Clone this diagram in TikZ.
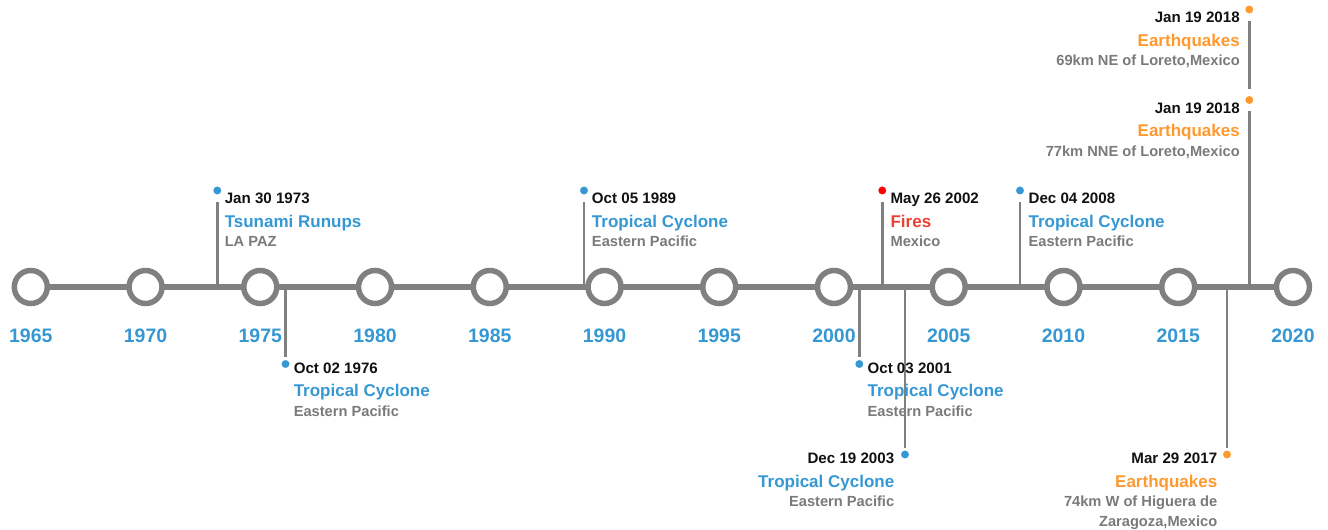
\documentclass[tikz,border=0pt]{standalone}
\usepackage{fontspec}
\setmainfont{Liberation Sans}
\usetikzlibrary{calc}
\definecolor{axisgray}{HTML}{808080}
\definecolor{subgray}{HTML}{7A7A7A}
\definecolor{evblue}{HTML}{3598D3}
\definecolor{evorange}{HTML}{FF992E}
\definecolor{evred}{HTML}{EB4034}
\definecolor{dotred}{HTML}{FF0000}
\definecolor{datecol}{HTML}{111111}
\tikzset{
  yearring/.style={circle, draw=axisgray, line width=5.5*0.75pt, fill=white, minimum size=33*0.75pt, inner sep=0pt},
  yearlabel/.style={anchor=base, inner sep=0pt, text=evblue, font=\bfseries\fontsize{14.6}{16}\selectfont},
  axisline/.style={draw=axisgray, line width=6.5*0.75pt},
  stem/.style={draw=axisgray, line width=2.6*0.75pt},
  evdot/.style={circle, fill=#1, draw=white, line width=0.9pt, minimum size=9.5*0.75pt, inner sep=0pt},
  datetxt/.style={inner sep=0pt, text=datecol, font=\bfseries\fontsize{11.35}{13}\selectfont},
  titletxt/.style={inner sep=0pt, text=#1, font=\bfseries\fontsize{12.75}{15}\selectfont},
  subtxt/.style={inner sep=0pt, text=subgray, font=\bfseries\fontsize{11}{15}\selectfont},
}
\begin{document}
\begin{tikzpicture}[x=0.75pt, y=-0.75pt]
\useasboundingbox (0,0) rectangle (1328,530);
% axis coordinates and rings
\foreach \yr [count=\i from 0] in {1965,1970,1975,1980,1985,1990,1995,2000,2005,2010,2015,2020} {
  \coordinate (a\yr) at ({30.8+\i*114.74},287);
}
\foreach \a/\b in {1965/1970,1970/1975,1975/1980,1980/1985,1985/1990,1990/1995,1995/2000,2000/2005,2005/2010,2010/2015,2015/2020} {
  \draw[axisline] (a\a) -- (a\b);
}
% event stems (drawn before rings)
\coordinate (s1) at (217.3,287);
\coordinate (s2) at (285.5,287);
\coordinate (s3) at (584,287);
\coordinate (s4) at (859.3,287);
\coordinate (s5) at (882.3,287);
\coordinate (s6) at (905,287);
\coordinate (s7) at (1020,287);
\coordinate (s8) at (1227,287);
\coordinate (s9) at (1249.3,287);
\node[evdot=evblue] (d1) at (217.3,190.5) {};
\node[evdot=evblue] (d2) at (285.5,364) {};
\node[evdot=evblue] (d3) at (584,190.5) {};
\node[evdot=evblue] (d4) at (859.3,364) {};
\node[evdot=dotred] (d5) at (882.3,190.5) {};
\node[evdot=evblue] (d6) at (905,454.5) {};
\node[evdot=evblue] (d7) at (1020,190.5) {};
\node[evdot=evorange] (d8) at (1227,454.5) {};
\node[evdot=evorange] (d9) at (1249.3,100) {};
\node[evdot=evorange] (d10) at (1249.3,9.5) {};
\draw[stem, shorten >=4.5pt] (s1) -- (d1);
\draw[stem, shorten >=1pt] (s2) -- (d2);
\draw[stem, shorten >=4.5pt] (s3) -- (d3);
\draw[stem, shorten >=1pt] (s4) -- (d4);
\draw[stem, shorten >=4.5pt] (s5) -- (d5);
\draw[stem, shorten >=1pt] (s6) -- (d6);
\draw[stem, shorten >=4.5pt] (s7) -- (d7);
\draw[stem, shorten >=1pt] (s8) -- (d8);
\draw[stem, shorten >=4.5pt] (s9) -- (d9);
\draw[stem, shorten >=4.5pt, shorten <=4.5pt] (d9) -- (d10);
% rings and year labels
\foreach \yr in {1965,1970,1975,1980,1985,1990,1995,2000,2005,2010,2015,2020} {
  \node[yearring] (c\yr) at (a\yr) {};
  \node[yearlabel] (y\yr) at ($(a\yr)+(0,55.3)$) {\yr};
}
% event 1
\node[datetxt, anchor=base west] (t1a) at (224.5,204) {Jan 30 1973};
\node[titletxt=evblue, anchor=base west] (t1b) at (224.5,227.3) {Tsunami Runups};
\node[subtxt, anchor=base west] (t1c) at (224.5,246.7) {LA PAZ};
% event 2
\node[datetxt, anchor=base west] (t2a) at (293.5,373.3) {Oct 02 1976};
\node[titletxt=evblue, anchor=base west] (t2b) at (293.5,396.3) {Tropical Cyclone};
\node[subtxt, anchor=base west] (t2c) at (293.5,416.7) {Eastern Pacific};
% event 3
\node[datetxt, anchor=base west] (t3a) at (591.7,204) {Oct 05 1989};
\node[titletxt=evblue, anchor=base west] (t3b) at (591.7,227.3) {Tropical Cyclone};
\node[subtxt, anchor=base west] (t3c) at (591.7,246.7) {Eastern Pacific};
% event 4
\node[datetxt, anchor=base west] (t4a) at (867.3,373.3) {Oct 03 2001};
\node[titletxt=evblue, anchor=base west] (t4b) at (867.3,396.3) {Tropical Cyclone};
\node[subtxt, anchor=base west] (t4c) at (867.3,416.7) {Eastern Pacific};
% event 5
\node[datetxt, anchor=base west] (t5a) at (890.3,204) {May 26 2002};
\node[titletxt=evred, anchor=base west] (t5b) at (890.3,227.3) {Fires};
\node[subtxt, anchor=base west] (t5c) at (890.3,246.7) {Mexico};
% event 6
\node[datetxt, anchor=base east] (t6a) at (894.5,464) {Dec 19 2003};
\node[titletxt=evblue, anchor=base east] (t6b) at (894.5,487.3) {Tropical Cyclone};
\node[subtxt, anchor=base east] (t6c) at (894.5,506.7) {Eastern Pacific};
% event 7
\node[datetxt, anchor=base west] (t7a) at (1028.3,204) {Dec 04 2008};
\node[titletxt=evblue, anchor=base west] (t7b) at (1028.3,227.3) {Tropical Cyclone};
\node[subtxt, anchor=base west] (t7c) at (1028.3,246.7) {Eastern Pacific};
% event 8
\node[datetxt, anchor=base east] (t8a) at (1217.5,464) {Mar 29 2017};
\node[titletxt=evorange, anchor=base east] (t8b) at (1217.5,487.3) {Earthquakes};
\node[subtxt, anchor=base east] (t8c) at (1217.5,506.7) {74km W of Higuera de};
\node[subtxt, anchor=base east] (t8d) at (1217.5,526.5) {Zaragoza,Mexico};
% event 9
\node[datetxt, anchor=base east] (t9a) at (1240,113.5) {Jan 19 2018};
\node[titletxt=evorange, anchor=base east] (t9b) at (1240,136.8) {Earthquakes};
\node[subtxt, anchor=base east] (t9c) at (1240,156.2) {77km NNE of Loreto,Mexico};
% event 10
\node[datetxt, anchor=base east] (t10a) at (1240,23) {Jan 19 2018};
\node[titletxt=evorange, anchor=base east] (t10b) at (1240,46.3) {Earthquakes};
\node[subtxt, anchor=base east] (t10c) at (1240,65.7) {69km NE of Loreto,Mexico};
\end{tikzpicture}
\end{document}
